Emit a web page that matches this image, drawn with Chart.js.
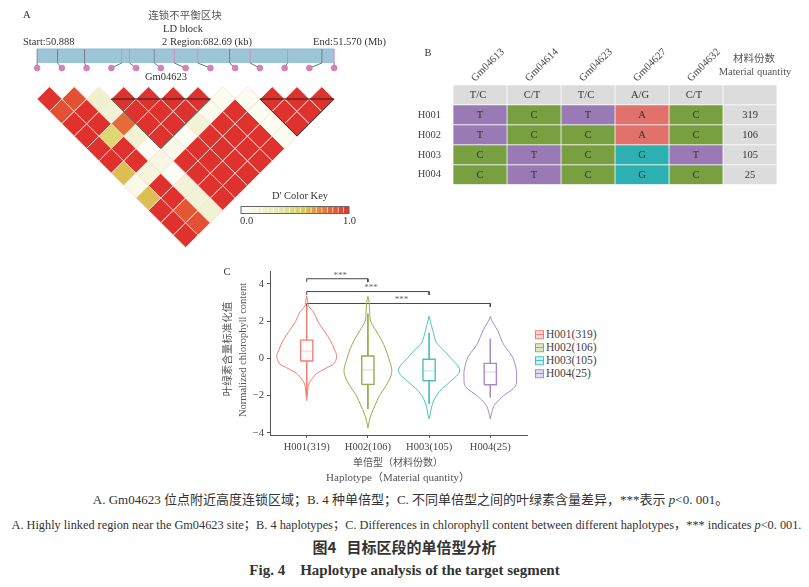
<!DOCTYPE html>
<html>
<head>
<meta charset="utf-8">
<title>Haplotype analysis</title>
<script src="https://cdn.jsdelivr.net/npm/chart.js@4.4.0/dist/chart.umd.min.js"></script>
<style>
  body { margin: 0; width: 809px; height: 587px; background: #fff; position: relative; overflow: hidden;
         font-family: 'Liberation Serif', 'Noto Sans CJK SC', serif; color: #333; }
  canvas { position: absolute; }
  .t { position: absolute; white-space: nowrap; font-size: 10.5px; line-height: 1; }
  .c { transform: translate(-50%, -50%); }
  .l { transform: translate(0, -50%); }
  .r { transform: translate(-100%, -50%); }
  .rot { transform: translate(-50%, -50%) rotate(-90deg); }
  .grey { color: #555; }
  .cap { position: absolute; left: 0; width: 809px; text-align: center; white-space: nowrap; line-height: 1; }
  .leg { position: absolute; font-size: 11.5px; line-height: 1; color: #444; transform: translate(0, -50%); white-space: nowrap; }
  .key { display: inline-block; width: 7px; height: 7px; border: 1px solid; margin-right: 2px; vertical-align: -1px; }
</style>
</head>
<body>

<!-- Panel A -->
<canvas id="ldChart" width="396" height="260" style="left:0;top:0"></canvas>
<div class="t l" style="left:23px;top:15px">A</div>
<div class="t c grey" style="left:185px;top:16px">连锁不平衡区块</div>
<div class="t c" style="left:183px;top:29px">LD block</div>
<div class="t l" style="left:23px;top:42px">Start:50.888</div>
<div class="t l" style="left:162px;top:42px">2 Region:682.69 (kb)</div>
<div class="t r" style="left:386px;top:42px">End:51.570 (Mb)</div>
<div class="t c" style="left:166px;top:77px">Gm04623</div>
<div class="t c" style="left:300px;top:196px">D' Color Key</div>
<div class="t l" style="left:240px;top:221px">0.0</div>
<div class="t r" style="left:356px;top:221px">1.0</div>

<!-- Panel B -->
<canvas id="hapTable" width="368" height="155" style="left:410px;top:40px"></canvas>
<div class="t c" style="left:428px;top:53px">B</div>
<div class="t c grey" style="left:754px;top:59px">材料份数</div>
<div class="t c grey" style="left:755px;top:72px">Material quantity</div>

<!-- Panel C -->
<canvas id="violinChart" width="320" height="200" style="left:215px;top:262px"></canvas>
<div class="t c" style="left:227px;top:272px">C</div>
<div class="t rot grey" style="left:228px;top:349px">叶绿素含量标准化值</div>
<div class="t rot grey" style="left:243px;top:350px">Normalized chlorophyll content</div>
<div class="t c grey" style="left:398px;top:463px;font-size:10px">单倍型（材料份数）</div>
<div class="t c grey" style="left:398px;top:477px;font-size:11px">Haplotype（Material quantity）</div>
<div id="legend"></div>

<!-- Captions -->
<div class="cap" style="top:493px;left:6px;font-size:13px">A. Gm04623 位点附近高度连锁区域；B. 4 种单倍型；C. 不同单倍型之间的叶绿素含量差异，***表示 <i>p</i>&lt;0. 001。</div>
<div class="cap" style="top:519px;left:2px;font-size:12.3px">A. Highly linked region near the Gm04623 site；B. 4 haplotypes；C. Differences in chlorophyll content between different haplotypes，*** indicates <i>p</i>&lt;0. 001.</div>
<div class="cap" style="top:539px;font-size:15px;font-weight:bold;font-family:'Noto Sans CJK SC',sans-serif">图4&nbsp;&nbsp;&nbsp;目标区段的单倍型分析</div>
<div class="cap" style="top:563px;font-size:15px;font-weight:bold">Fig. 4&nbsp;&nbsp;&nbsp;&nbsp;Haplotype analysis of the target segment</div>

<script>
// ---- Data ----

// Panel A: SNPs in the LD block (Mb) and pairwise D'
var snpStart = 50.888;
var snpEnd = 51.570;
var snpPos = [50.888, 50.935, 50.997, 51.082, 51.100, 51.157, 51.203, 51.257, 51.330, 51.377, 51.463, 51.542, 51.570];
// dPrime[i] = D' of SNP i with SNP i+1, i+2, ...
var dPrime = [
    [1.0, 0.9, 1.0, 1.0, 1.0, 1.0, 0.6, 0.08, 0.6, 1.0, 1.0, 1.0],
    [0.9, 1.0, 1.0, 0.5, 1.0, 1.0, 0.15, 1.0, 1.0, 0.88, 0.9],
    [0.22, 0.2, 0.82, 0.2, 0.02, 0.12, 0.02, 0.18, 0.18, 0.2],
    [1.0, 1.0, 1.0, 1.0, 0.08, 1.0, 1.0, 1.0, 1.0],
    [1.0, 1.0, 1.0, 0.03, 1.0, 1.0, 1.0, 1.0],
    [1.0, 1.0, 0.18, 1.0, 1.0, 1.0, 1.0],
    [1.0, 0.06, 1.0, 1.0, 1.0, 1.0],
    [0.05, 1.0, 1.0, 1.0, 1.0],
    [0.05, 0.04, 0.05, 0.05],
    [1.0, 1.0, 1.0],
    [1.0, 1.0],
    [1.0]
];
var blockStart = [3, 9];
var blockEnd = [7, 12];

// Panel B: haplotype table
var snpNames = ['Gm04613', 'Gm04614', 'Gm04623', 'Gm04627', 'Gm04632'];
var snpAlleles = ['T/C', 'C/T', 'T/C', 'A/G', 'C/T'];
var hapNames = ['H001', 'H002', 'H003', 'H004'];
var hapCounts = [319, 106, 105, 25];
var hapAlleles = [
    ['T', 'C', 'T', 'A', 'C'],
    ['T', 'C', 'C', 'A', 'C'],
    ['C', 'T', 'C', 'G', 'T'],
    ['C', 'T', 'C', 'G', 'C']
];

// Panel C: normalized chlorophyll content per haplotype
var hapLabels = ['H001(319)', 'H002(106)', 'H003(105)', 'H004(25)'];
var violinLevels = [
    [3.36, 3.0, 2.8, 2.5, 2.0, 1.5, 1.0, 0.5, 0.1, -0.3, -0.5, -0.8, -1.0, -1.3, -1.6, -2.0, -2.27],
    [3.33, 3.0, 2.5, 2.0, 1.5, 1.0, 0.5, 0.0, -0.6, -1.0, -1.5, -2.0, -2.5, -3.0, -3.4, -3.75],
    [2.26, 2.0, 1.5, 0.85, 0.5, 0.1, -0.65, -1.3, -1.6, -2.0, -2.5, -3.0, -3.25],
    [2.26, 2.0, 1.5, 0.85, 0.5, 0.1, -0.6, -1.0, -1.5, -2.0, -2.5, -2.9, -3.25]
];
var violinDensity = [
    [0, 0.02, 0.03, 0.11, 0.18, 0.28, 0.38, 0.45, 0.49, 0.44, 0.33, 0.17, 0.11, 0.045, 0.02, 0.01, 0],
    [0, 0.02, 0.03, 0.045, 0.13, 0.22, 0.29, 0.34, 0.39, 0.37, 0.29, 0.19, 0.12, 0.055, 0.02, 0],
    [0, 0.02, 0.06, 0.12, 0.22, 0.33, 0.5, 0.33, 0.22, 0.12, 0.05, 0.02, 0],
    [0, 0.03, 0.12, 0.2, 0.27, 0.36, 0.425, 0.43, 0.41, 0.22, 0.07, 0.025, 0]
];
var boxQ1 = [-0.14, -1.40, -1.20, -1.42];
var boxMedian = [0.39, -0.62, -0.67, -0.73];
var boxQ3 = [0.98, 0.13, -0.05, -0.27];
var whiskerLow = [-2.0, -2.72, -2.45, -2.1];
var whiskerHigh = [2.8, 2.4, 1.37, 1.05];
var sigPairs = [[0, 1], [0, 2], [0, 3]];
var sigHeights = [4.28, 3.59, 2.95];
var sigLabels = ['***', '***', '***'];
var yTicks = [-4, -2, 0, 2, 4];

// ---- Styles ----

var serif = "'Liberation Serif', 'Noto Sans CJK SC', serif";
var ldStops = [[0, [255, 255, 250]], [0.3, [234, 234, 192]], [0.55, [216, 210, 92]], [0.75, [232, 128, 60]], [1, [223, 50, 46]]];
var barTickColors = ['#7b8b92', '#6f7f86', '#6f7f86', '#d886c4', '#d886c4', '#7b8b92', '#d886c4', '#d886c4',
                     '#6f7f86', '#d886c4', '#d886c4', '#6f7f86', '#d886c4'];
var alleleColors = { T: '#9a7ab5', C: '#78a041', A: '#e2716b', G: '#2db0b2' };
var plainCell = '#dcdcdc';
var hapColors = ['#ef7f73', '#93ad4c', '#4cc0c0', '#a58bc8'];
var hapLight = ['#fbd7d2', '#dfe8c6', '#cdeeee', '#e3d9ef'];

Chart.defaults.font.family = serif;
Chart.defaults.animation = false;
Chart.defaults.layout.autoPadding = false;
Chart.defaults.plugins.legend.display = false;
Chart.defaults.plugins.tooltip.enabled = false;

function ldColor(v) {
    for (var s = 1; s < ldStops.length; s++) {
        if (v <= ldStops[s][0] || s === ldStops.length - 1) {
            var a = ldStops[s - 1], b = ldStops[s];
            var t = Math.min(1, Math.max(0, (v - a[0]) / (b[0] - a[0])));
            var rgb = [0, 1, 2].map(function (k) { return Math.round(a[1][k] + (b[1][k] - a[1][k]) * t); });
            return 'rgb(' + rgb.join(',') + ')';
        }
    }
}

// ---- Panel A: LD heatmap ----

var barTop = -3.04, barBottom = -1.91, dotRow = -1.5;
var span = (snpEnd - snpStart) / (snpPos.length - 1);

var cells = [];
for (var i = 0; i < dPrime.length; i++) {
    for (var j = 0; j < dPrime[i].length; j++) {
        var k = j + 1;
        cells.push({ x: i + k / 2, y: k, v: dPrime[i][j] });
    }
}

var triangles = blockStart.map(function (a, b) {
    var e = blockEnd[b];
    return {
        type: 'line', order: 0, data: [{ x: a, y: 1 }, { x: e, y: 1 }, { x: (a + e) / 2, y: e - a + 1 }, { x: a, y: 1 }],
        borderColor: '#222', borderWidth: 1, pointRadius: 0, tension: 0, fill: false
    };
});

var snpLinks = {
    id: 'snpLinks',
    afterDatasetDraw: function (chart, args) {
        if (args.index !== 0) return;
        var ctx = chart.ctx, sx = chart.scales.x, sp = chart.scales.xPos, sy = chart.scales.y;
        ctx.save();
        ctx.lineWidth = 1;
        for (var i = 0; i < snpPos.length; i++) {
            var px = sp.getPixelForValue(snpPos[i]);
            ctx.strokeStyle = barTickColors[i];
            ctx.beginPath();
            ctx.moveTo(px, sy.getPixelForValue(barTop));
            ctx.lineTo(px, sy.getPixelForValue(barBottom));
            ctx.stroke();
            ctx.strokeStyle = '#5d7d62';
            ctx.beginPath();
            ctx.moveTo(px, sy.getPixelForValue(barBottom));
            ctx.lineTo(sx.getPixelForValue(i), sy.getPixelForValue(dotRow));
            ctx.stroke();
        }
        ctx.restore();
    },
    afterDraw: function (chart) {
        // D' colour key
        var ctx = chart.ctx, x0 = 241, x1 = 349, y0 = 206.5, y1 = 213.5, n = 20;
        ctx.save();
        for (var s = 0; s < n; s++) {
            ctx.fillStyle = ldColor((s + 0.5) / n);
            ctx.fillRect(x0 + (x1 - x0) * s / n, y0, (x1 - x0) / n, y1 - y0);
        }
        ctx.strokeStyle = '#fff';
        ctx.lineWidth = 0.6;
        for (var s = 1; s < n; s++) {
            var xx = x0 + (x1 - x0) * s / n;
            ctx.beginPath(); ctx.moveTo(xx, y0 + 1); ctx.lineTo(xx, y1 - 1); ctx.stroke();
        }
        ctx.strokeStyle = '#666';
        ctx.lineWidth = 1;
        ctx.strokeRect(x0, y0, x1 - x0, y1 - y0);
        ctx.restore();
    }
};

new Chart(document.getElementById('ldChart'), {
    type: 'scatter',
    data: {
        datasets: [{
            type: 'line', order: 5,
            xAxisID: 'xPos',
            data: [{ x: snpStart, y: barTop }, { x: snpEnd, y: barTop }],
            borderColor: '#8fb8cc', borderWidth: 1, pointRadius: 0,
            backgroundColor: '#9cc6d8', fill: { value: barBottom }
        }, {
            order: 2,
            data: cells,
            pointStyle: 'rectRot',
            pointRadius: function (c) {
                var s = c.chart.scales.x;
                return s ? s.getPixelForValue(0.5) - s.getPixelForValue(0) : 12;
            },
            backgroundColor: function (c) { return c.raw ? ldColor(c.raw.v) : '#fff'; },
            borderColor: '#fbe2d6', borderWidth: 0.9
        }].concat(triangles, [{
            order: 0,
            data: snpPos.map(function (p, i) { return { x: i, y: dotRow }; }),
            pointRadius: 3, backgroundColor: '#d680c2', borderColor: '#c46ab0', borderWidth: 0.5
        }])
    },
    options: {
        responsive: false,
        layout: { padding: 0 },
        scales: {
            x: { type: 'linear', display: false, min: -1.5, max: 14.5 },
            xPos: { type: 'linear', display: false, min: snpStart - 1.5 * span, max: snpEnd + 2.5 * span },
            y: { type: 'linear', display: false, reverse: true, min: -7, max: 14.01 }
        }
    },
    plugins: [snpLinks]
});

// ---- Panel B: haplotype table ----

var rowLabels = [''].concat(hapNames);

function cellText(r, c) {
    if (r === 0) return c < snpAlleles.length ? snpAlleles[c] : '';
    return c < snpAlleles.length ? hapAlleles[r - 1][c] : String(hapCounts[r - 1]);
}

function cellColor(r, c) {
    if (r === 0 || c >= snpAlleles.length) return plainCell;
    return alleleColors[hapAlleles[r - 1][c]];
}

var tableCols = [];
for (var c = 0; c <= snpNames.length; c++) {
    tableCols.push({
        data: rowLabels.map(function () { return 1; }),
        backgroundColor: (function (col) { return function (ctx) { return cellColor(ctx.dataIndex, col); }; })(c),
        borderColor: '#fff', borderWidth: 0.7, borderSkipped: false,
        barPercentage: 1, categoryPercentage: 1
    });
}

var tableText = {
    id: 'tableText',
    afterDatasetsDraw: function (chart) {
        var ctx = chart.ctx, sx = chart.scales.x, top = chart.chartArea.top;
        ctx.save();
        ctx.fillStyle = '#333';
        ctx.font = '10.5px ' + serif;
        ctx.textAlign = 'center';
        ctx.textBaseline = 'middle';
        chart.data.datasets.forEach(function (ds, c) {
            chart.getDatasetMeta(c).data.forEach(function (bar, r) {
                var p = bar.getCenterPoint();
                ctx.fillText(cellText(r, c), p.x - (r === 0 ? 2 : 0), p.y + 0.5);
            });
        });
        ctx.fillStyle = '#444';
        ctx.textAlign = 'left';
        snpNames.forEach(function (n, c) {
            ctx.save();
            ctx.translate(sx.getPixelForValue(c + 0.5) - 7, top - 5);
            ctx.rotate(-Math.PI / 4);
            ctx.fillText(n, 0, 0);
            ctx.restore();
        });
        ctx.restore();
    }
};

new Chart(document.getElementById('hapTable'), {
    type: 'bar',
    data: { labels: rowLabels, datasets: tableCols },
    options: {
        responsive: false,
        indexAxis: 'y',
        layout: { padding: { top: 45, right: 1, bottom: 0.5 } },
        scales: {
            x: { stacked: true, display: false, min: 0, max: snpNames.length + 1 },
            y: {
                stacked: true,
                grid: { display: false }, border: { display: false },
                ticks: { color: '#444', font: { size: 10.5 }, padding: 4 },
                afterFit: function (s) { s.width = 43; }
            }
        }
    },
    plugins: [tableText]
});

// ---- Panel C: violin plot ----

function violinPoints(g) {
    var lv = violinLevels[g], dn = violinDensity[g], cx = g + 1, pts = [];
    for (var i = 0; i < lv.length; i++) pts.push({ x: cx + dn[i], y: lv[i] });
    for (var i = lv.length - 1; i >= 0; i--) pts.push({ x: cx - dn[i], y: lv[i] });
    return pts;
}

var boxHalf = 0.1;
var violinSets = [];
hapLabels.forEach(function (lab, g) {
    var cx = g + 1, col = hapColors[g];
    violinSets.push({
        data: violinPoints(g), borderColor: col, borderWidth: 1, tension: 0.35
    });
    violinSets.push({
        data: [{ x: cx, y: whiskerHigh[g] }, { x: cx, y: boxQ3[g] }, { x: cx, y: null },
               { x: cx, y: boxQ1[g] }, { x: cx, y: whiskerLow[g] }],
        borderColor: col, borderWidth: 1, tension: 0
    });
    violinSets.push({
        data: [{ x: cx - boxHalf, y: boxQ1[g] }, { x: cx + boxHalf, y: boxQ1[g] }, { x: cx + boxHalf, y: boxQ3[g] },
               { x: cx - boxHalf, y: boxQ3[g] }, { x: cx - boxHalf, y: boxQ1[g] }],
        borderColor: col, borderWidth: 1.4, tension: 0, backgroundColor: 'rgba(255,255,255,0.6)', fill: 'shape'
    });
    violinSets.push({
        data: [{ x: cx - boxHalf, y: boxMedian[g] }, { x: cx + boxHalf, y: boxMedian[g] }],
        borderColor: col, borderWidth: 1, tension: 0
    });
});

var drop = 0.18;
sigPairs.forEach(function (p, s) {
    var a = p[0] + 1, b = p[1] + 1, h = sigHeights[s];
    violinSets.push({
        data: [{ x: a, y: h - drop }, { x: a, y: h }, { x: b, y: h }, { x: b, y: h - drop }],
        borderColor: '#444', borderWidth: 1, tension: 0
    });
});

var sigText = {
    id: 'sigText',
    afterDatasetsDraw: function (chart) {
        var ctx = chart.ctx, sx = chart.scales.x, sy = chart.scales.y;
        ctx.save();
        ctx.fillStyle = '#666';
        ctx.font = '9px ' + serif;
        ctx.textAlign = 'center';
        ctx.textBaseline = 'bottom';
        sigPairs.forEach(function (p, s) {
            var xm = sx.getPixelForValue((p[0] + p[1]) / 2 + 1) + 3;
            ctx.fillText(sigLabels[s], xm, sy.getPixelForValue(sigHeights[s]) + 1);
        });
        ctx.restore();
    }
};

new Chart(document.getElementById('violinChart'), {
    type: 'line',
    data: {
        datasets: violinSets.map(function (d) {
            d.pointRadius = 0;
            if (d.fill === undefined) d.fill = false;
            return d;
        })
    },
    options: {
        responsive: false,
        spanGaps: false,
        layout: { padding: { top: 8, right: 8 } },
        scales: {
            x: {
                type: 'linear', min: 0.4, max: 4.6,
                afterBuildTicks: function (s) { s.ticks = hapLabels.map(function (l, i) { return { value: i + 1 }; }); },
                ticks: {
                    color: '#444', font: { size: 10.5 }, padding: 3, maxRotation: 0,
                    callback: function (v) { return hapLabels[v - 1]; }
                },
                grid: { drawOnChartArea: false, tickLength: 3, color: '#555' },
                border: { color: '#555', width: 1 },
                afterFit: function (s) { s.height = 27; }
            },
            y: {
                type: 'linear', min: -4.12, max: 4.68,
                afterBuildTicks: function (s) { s.ticks = yTicks.map(function (v) { return { value: v }; }); },
                ticks: {
                    color: '#444', font: { size: 10.5 }, padding: 3,
                    callback: function (v) { return v < 0 ? '\u2212' + Math.abs(v) : String(v); }
                },
                grid: { drawOnChartArea: false, tickLength: 3, color: '#555' },
                border: { color: '#555', width: 1 },
                afterFit: function (s) { s.width = 55; }
            }
        }
    },
    plugins: [sigText]
});

// Legend

var legend = document.getElementById('legend');
var legendTop = [335, 348, 361, 374];
hapLabels.forEach(function (lab, g) {
    var item = document.createElement('div');
    item.className = 'leg';
    item.style.left = '535px';
    item.style.top = legendTop[g] + 'px';
    var key = document.createElement('span');
    key.className = 'key';
    key.style.borderColor = hapColors[g];
    key.style.background = 'linear-gradient(' + hapLight[g] + ' 0 40%, ' + hapColors[g] + ' 40% 55%, ' + hapLight[g] + ' 55% 100%)';
    item.appendChild(key);
    item.appendChild(document.createTextNode(lab));
    legend.appendChild(item);
});
</script>
</body>
</html>
